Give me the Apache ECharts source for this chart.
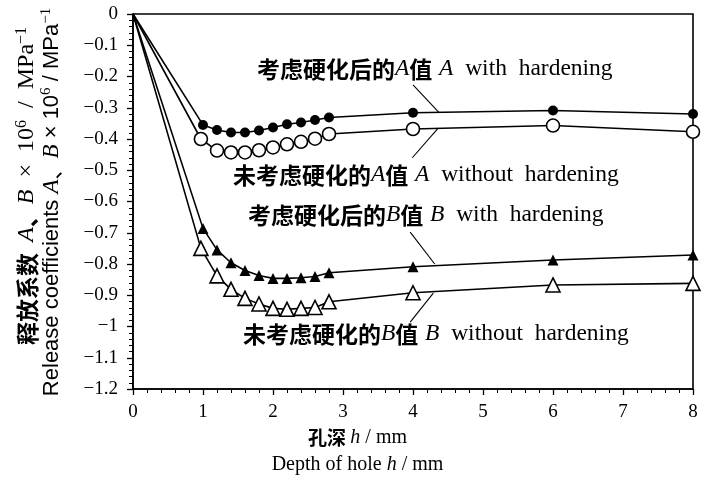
<!DOCTYPE html>
<html><head><meta charset="utf-8">
<script src="https://cdn.jsdelivr.net/npm/echarts@6/dist/echarts.min.js"></script>
<style>html,body{margin:0;padding:0;background:#fff}#c{width:715px;height:485px}</style>
</head><body><div id="c"></div>
<script>
var xHard = [0, 1.0, 1.2, 1.4, 1.6, 1.8, 2.0, 2.2, 2.4, 2.6, 2.8, 4, 6, 8];
var xNo   = [0, 0.97, 1.2, 1.4, 1.6, 1.8, 2.0, 2.2, 2.4, 2.6, 2.8, 4, 6, 8];
var aHard = [0, -0.355, -0.371, -0.379, -0.379, -0.373, -0.363, -0.353, -0.347, -0.339, -0.331, -0.316, -0.309, -0.320];
var aNo   = [0, -0.400, -0.437, -0.443, -0.443, -0.436, -0.427, -0.417, -0.409, -0.399, -0.384, -0.368, -0.357, -0.377];
var bHard = [0, -0.686, -0.755, -0.796, -0.821, -0.837, -0.846, -0.846, -0.844, -0.840, -0.828, -0.809, -0.787, -0.771];
var bNo   = [0, -0.750, -0.838, -0.881, -0.910, -0.928, -0.942, -0.945, -0.942, -0.939, -0.921, -0.892, -0.867, -0.862];
var xTicks = [0, 1, 2, 3, 4, 5, 6, 7, 8];
var yTicks = [0, -0.1, -0.2, -0.3, -0.4, -0.5, -0.6, -0.7, -0.8, -0.9, -1, -1.1, -1.2];

var SERIF = '"Liberation Serif","Times New Roman",serif';
var SANS = '"Liberation Sans",Arial,sans-serif';
var CJK = '"Noto Sans CJK SC",sans-serif';

function pts(xs, ys) {
  return xs.map(function (x, i) {
    var d = {value: [x, ys[i]]};
    if (i === 0) d.symbol = 'none';
    return d;
  });
}
function mkSeries(name, xs, ys, symbol, size, filled) {
  return {
    name: name, type: 'line', data: pts(xs, ys), symbol: symbol, symbolSize: size,
    showAllSymbol: true, clip: false, z: filled ? 3 : 2,
    lineStyle: {color: '#000', width: 1.6},
    itemStyle: {color: filled ? '#000' : '#fff', borderColor: '#000', borderWidth: filled ? 0 : 1.6},
    emphasis: {disabled: true}, animation: false
  };
}
var rich = {
  cn: {fontFamily: CJK, fontSize: 23, fontWeight: 'bold', color: '#111'},
  it: {fontFamily: SERIF, fontStyle: 'italic', fontSize: 23.5, color: '#000'},
  en: {fontFamily: SERIF, fontSize: 23.5, color: '#000'}
};
function note(x, y, txt) {
  return {type: 'text', left: x, top: y, style: {text: txt, rich: rich}};
}
var leaders = [
  [[4.0, -0.227], [4.37, -0.315]],
  [[4.36, -0.365], [3.99, -0.46]],
  [[3.96, -0.698], [4.31, -0.80]],
  [[4.29, -0.893], [3.96, -0.986]]
];
var series = [
  mkSeries('A with hardening', xHard, aHard, 'circle', 10, true),
  mkSeries('A without hardening', xNo, aNo, 'circle', 13, false),
  mkSeries('B with hardening', xHard, bHard, 'triangle', 11, true),
  mkSeries('B without hardening', xNo, bNo, 'triangle', 14, false)
];
series[0].markLine = {
  silent: true, symbol: ['none', 'none'], label: {show: false}, animation: false,
  lineStyle: {color: '#000', width: 1.1, type: 'solid'},
  data: leaders.map(function (l) { return [{coord: l[0]}, {coord: l[1]}]; })
};

var chart = echarts.init(document.getElementById('c'));
chart.setOption({
  animation: false,
  backgroundColor: '#fff',
  grid: {left: 133, right: 22, top: 14, bottom: 96, show: true, borderColor: '#000', borderWidth: 1.6, backgroundColor: 'transparent'},
  xAxis: {
    type: 'value', min: xTicks[0], max: xTicks[xTicks.length - 1], interval: 1,
    axisLine: {onZero: false, lineStyle: {color: '#000', width: 1.6}},
    axisTick: {length: 6, lineStyle: {color: '#000', width: 1.3}},
    minorTick: {show: true, splitNumber: 5, length: 4, lineStyle: {color: '#000', width: 1}},
    splitLine: {show: false},
    axisLabel: {margin: 14, fontFamily: SERIF, fontSize: 19, color: '#000'}
  },
  yAxis: {
    type: 'value', min: yTicks[yTicks.length - 1], max: yTicks[0], interval: 0.1,
    axisLine: {onZero: false, lineStyle: {color: '#000', width: 1.6}},
    axisTick: {length: 6, lineStyle: {color: '#000', width: 1.3}},
    minorTick: {show: true, splitNumber: 5, length: 4, lineStyle: {color: '#000', width: 1}},
    splitLine: {show: false},
    axisLabel: {margin: 15, fontFamily: SERIF, fontSize: 19, color: '#000',
      formatter: function (v) { var r = Math.round(v * 10) / 10; return r === 0 ? '0' : String(r).replace('-', '\u2212'); }}
  },
  series: series,
  graphic: [
    note(257, 57, '{cn|考虑硬化后的}{it|A}{cn|值}  {it|A}{en|  with  hardening}'),
    note(233, 163, '{cn|未考虑硬化的}{it|A}{cn|值}  {it|A}{en|  without  hardening}'),
    note(248, 203, '{cn|考虑硬化后的}{it|B}{cn|值}  {it|B}{en|  with  hardening}'),
    note(243, 322, '{cn|未考虑硬化的}{it|B}{cn|值}  {it|B}{en|  without  hardening}'),
    {type: 'text', left: 'center', top: 428, style: {text: '{cn|孔深 }{it|h}{en| / mm}', rich: {
      cn: {fontFamily: CJK, fontSize: 19, fontWeight: 'bold', color: '#111'}, it: {fontFamily: SERIF, fontStyle: 'italic', fontSize: 20, color: '#000'}, en: {fontFamily: SERIF, fontSize: 20, color: '#000'}}}},
    {type: 'text', left: 'center', top: 455, style: {text: '{en|Depth of hole }{it|h}{en| / mm}', rich: {
      it: {fontFamily: SERIF, fontStyle: 'italic', fontSize: 20, color: '#000'}, en: {fontFamily: SERIF, fontSize: 20, color: '#000'}}}},
    {type: 'text', x: 27, y: 186, rotation: Math.PI / 2, style: {
      text: '{cn|释放系数 }{it| A}{cn|、}{it|B}{en|  ×  10}{sup|6}{en|  /  MPa}{sup|−1}',
      align: 'center', verticalAlign: 'middle',
      rich: {cn: {fontFamily: CJK, fontSize: 23, fontWeight: 'bold', color: '#111', lineHeight: 26},
        it: {fontFamily: SERIF, fontStyle: 'italic', fontSize: 24, color: '#000', lineHeight: 26},
        en: {fontFamily: SERIF, fontSize: 24, color: '#000', lineHeight: 26},
        sup: {fontFamily: SERIF, fontSize: 16, color: '#000', verticalAlign: 'top', lineHeight: 26}}}},
    {type: 'text', x: 52, y: 202, rotation: Math.PI / 2, style: {
      text: '{en|Release coefficients }{it|A}{cn|、}{it|B}{en| × 10}{sup|6}{en| / MPa}{sup|−1}',
      align: 'center', verticalAlign: 'middle',
      rich: {cn: {fontFamily: CJK, fontSize: 21, color: '#000', lineHeight: 26},
        it: {fontFamily: SERIF, fontStyle: 'italic', fontSize: 23, color: '#000', lineHeight: 26},
        en: {fontFamily: SANS, fontSize: 22, color: '#000', lineHeight: 26},
        sup: {fontFamily: SERIF, fontSize: 15, color: '#000', verticalAlign: 'top', lineHeight: 26}}}}
  ]
});
</script></body></html>
